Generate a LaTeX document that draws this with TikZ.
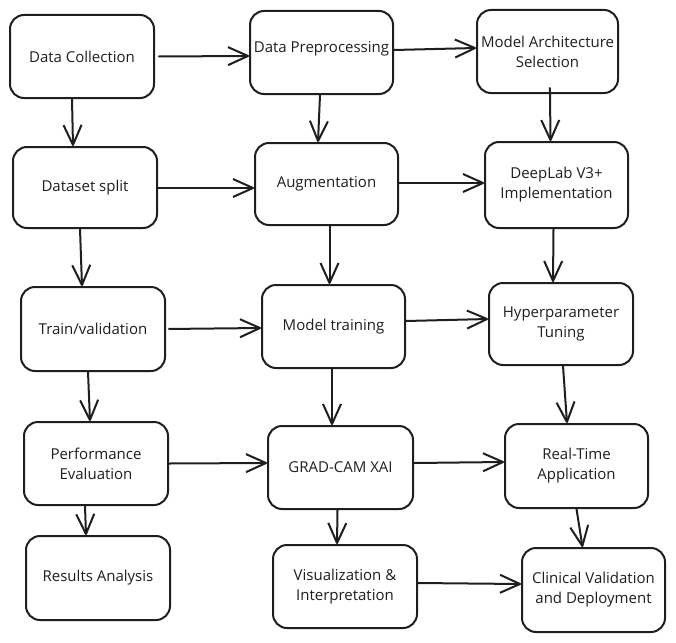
\documentclass[tikz,border=0pt]{standalone}
\usepackage{fontspec}
\setmainfont{Open Sans}
\usepackage{xcolor}
\definecolor{inkblack}{HTML}{1E1E1E}
\usetikzlibrary{positioning, arrows.meta}

\begin{document}
\begin{tikzpicture}[x=1pt, y=-1pt]
    \tikzstyle{stepbox} = [draw=inkblack, line width=2pt, rounded corners=14pt, minimum width=144pt, minimum height=83pt, inner sep=1pt, align=center, text=inkblack, font=\fontsize{15}{20}\selectfont]
    \tikzstyle{flow} = [draw=inkblack, line width=2pt, line cap=round, -{Straight Barb[length=20pt, width=18pt, line join=round]}]

    \useasboundingbox (0,0) rectangle (676,642);

    \node [stepbox] (collect) at (82,56.5) {Data Collection};
    \node [stepbox, minimum width=143pt] (prep) at (321.5,52.5) {\raisebox{11pt}{Data Preprocessing}};
    \node [stepbox, minimum width=141pt] (arch) at (547.5,51.5) {Model Architecture\\Selection};

    \node [stepbox, minimum height=81pt] (split) at (85,187.5) {Dataset split};
    \node [stepbox, minimum width=143pt, minimum height=82pt] (augm) at (326.5,184) {Augmentation};
    \node [stepbox, minimum width=143pt, minimum height=86pt] (deeplab) at (556.5,185) {DeepLab V3+\\Implementation};

    \node [stepbox, minimum height=84pt] (trainval) at (93,329) {Train/validation};
    \node [stepbox, minimum width=143pt] (training) at (333.5,326.5) {Model training};
    \node [stepbox, minimum height=82pt] (tuning) at (561,324) {Hyperparameter\\Tuning};

    \node [stepbox] (perf) at (96,463.5) {Performance\\Evaluation};
    \node [stepbox, minimum width=145pt] (gradcam) at (340.5,467.5) {GRAD-CAM XAI};
    \node [stepbox, minimum width=143pt, minimum height=84pt] (realtime) at (576.5,466) {Real-Time\\Application};

    \node [stepbox, minimum height=84pt] (results) at (98,578) {Results Analysis};
    \node [stepbox] (visual) at (345,586.5) {Visualization \&\\Interpretation};
    \node [stepbox, minimum width=143pt, minimum height=84pt] (clinical) at (593.5,590) {Clinical Validation\\and Deployment};

    \draw [flow, shorten <=4pt] (collect.east) -- ([yshift=-3.5pt]prep.west);
    \draw [flow] ([yshift=2.5pt]prep.east) -- ([yshift=3.5pt]arch.west);
    \draw [flow] ([yshift=-0.5pt]split.east) -- ([yshift=-4pt]augm.west);
    \draw [flow] ([yshift=1pt]augm.east) -- ([yshift=2pt]deeplab.west);
    \draw [flow, shorten <=3pt] (trainval.east) -- ([yshift=-1.5pt]training.west);
    \draw [flow] ([yshift=5.5pt]training.east) -- ([yshift=5pt]tuning.west);
    \draw [flow] (perf.east) -- ([yshift=4.5pt]gradcam.west);
    \draw [flow] ([yshift=4.5pt]gradcam.east) -- ([yshift=4pt]realtime.west);
    \draw [flow] ([yshift=3.5pt]visual.east) -- ([yshift=6pt]clinical.west);

    \draw [flow] ([xshift=-10pt]collect.south) -- ([xshift=-12pt]split.north);
    \draw [flow] ([xshift=-1.5pt]prep.south) -- ([xshift=-8.5pt]augm.north);
    \draw [flow, shorten <=-6pt] ([xshift=2.5pt]arch.south) -- ([xshift=-6pt]deeplab.north);
    \draw [flow] ([xshift=-5pt]split.south) -- ([xshift=-11pt]trainval.north);
    \draw [flow] ([xshift=3pt]augm.south) -- ([xshift=-4pt]training.north);
    \draw [flow] ([xshift=-3pt]deeplab.south) -- ([xshift=-8pt]tuning.north);
    \draw [flow] ([xshift=-5pt]trainval.south) -- ([xshift=-6pt]perf.north);
    \draw [flow] ([xshift=-1.5pt]training.south) -- ([xshift=-8.5pt]gradcam.north);
    \draw [flow] ([xshift=2pt]tuning.south) -- ([xshift=-9.5pt]realtime.north);
    \draw [flow] ([xshift=-11pt]perf.south) -- ([xshift=-12pt]results.north);
    \draw [flow] ([xshift=-3pt]gradcam.south) -- ([xshift=-8pt]visual.north);
    \draw [flow] (realtime.south) -- ([xshift=-11pt]clinical.north);
\end{tikzpicture}
\end{document}
